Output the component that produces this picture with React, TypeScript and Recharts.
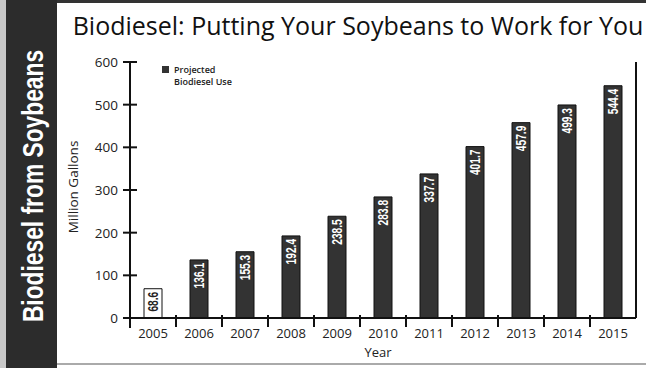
import { BarChart, Bar, XAxis, YAxis, LabelList, Cell } from "recharts";

const years = ["2005", "2006", "2007", "2008", "2009", "2010", "2011", "2012", "2013", "2014", "2015"];
const gallons = [68.6, 136.1, 155.3, 192.4, 238.5, 283.8, 337.7, 401.7, 457.9, 499.3, 544.4];
const yTicks = [0, 100, 200, 300, 400, 500, 600];

const data = years.map((year, i) => ({ year, value: gallons[i] }));

const W = 646;
const H = 368;
const PLOT_LEFT = 130;
const PLOT_RIGHT = 636;
const BAND = (PLOT_RIGHT - PLOT_LEFT) / years.length;
const TICK_FONT = "'Open Sans', 'DejaVu Sans', sans-serif";
const BOLD_FONT = "'Liberation Sans', Arial, sans-serif";

function LeftTick(props: any) {
  const { x, y, payload } = props;
  return (
    <g>
      <line x1={x - 7} x2={x + 7} y1={y} y2={y} stroke="#111" strokeWidth={2} />
      {payload.value === 0 && <line x1={x} x2={x} y1={y} y2={y + 10} stroke="#111" strokeWidth={2} />}
      <text x={x - 12} y={y + 5} textAnchor="end" fontSize={13.5} fontFamily={TICK_FONT} fill="#222">
        {payload.value}
      </text>
    </g>
  );
}

function RightTick(props: any) {
  const { x, y, payload } = props;
  return (
    <g>
      <line x1={x - 6} x2={x + 6} y1={y} y2={y} stroke="#111" strokeWidth={2} />
      {payload.value === 0 && <line x1={x} x2={x} y1={y} y2={y + 9} stroke="#111" strokeWidth={2} />}
    </g>
  );
}

function YearTick(props: any) {
  const { x, y, payload, index } = props;
  const bx = x + BAND / 2;
  return (
    <g>
      {index < years.length - 1 && (
        <line x1={bx} x2={bx} y1={y - 3} y2={y + 9} stroke="#111" strokeWidth={2} />
      )}
      <text x={x} y={y + 20} textAnchor="middle" fontSize={13} fontFamily={TICK_FONT} fill="#222">
        {payload.value}
      </text>
    </g>
  );
}

function ValueLabel(props: any) {
  const { x, y, width, value, index } = props;
  const cx = x + width / 2;
  const ty = y + 3;
  return (
    <text
      x={0}
      y={0}
      transform={`translate(${cx} ${ty}) rotate(-90) scale(0.68 1)`}
      textAnchor="end"
      dominantBaseline="central"
      fontSize={15}
      fontWeight="bold"
      fontFamily={BOLD_FONT}
      fill={index === 0 ? "#222" : "#fff"}
    >
      {value}
    </text>
  );
}

export default function App() {
  return (
    <div style={{ position: "absolute", left: 0, top: 0, width: W, height: H, background: "#fff", overflow: "hidden" }}>
      <svg width={W} height={H} style={{ position: "absolute", left: 0, top: 0 }}>
        <rect x={0} y={0} width={W} height={3} fill="#333" />
        <rect x={0} y={0} width={6} height={H} fill="#c8c8c8" />
        <rect x={6} y={0} width={51} height={H} fill="#2c2c2c" />
        <rect x={57} y={363} width={W - 57} height={2} fill="#aaa" />
        <text
          x={0}
          y={0}
          transform="translate(33 186) rotate(-90) scale(0.76 1)"
          textAnchor="middle"
          dominantBaseline="central"
          fontSize={30}
          fontWeight="bold"
          fontFamily={BOLD_FONT}
          fill="#fff"
        >
          Biodiesel from Soybeans
        </text>
        <text x={358} y={35} textAnchor="middle" fontSize={25} fontFamily={TICK_FONT} fill="#111">
          Biodiesel: Putting Your Soybeans to Work for You
        </text>
        <text
          x={73}
          y={187}
          transform="rotate(-90 73 187)"
          textAnchor="middle"
          dominantBaseline="central"
          fontSize={13.5}
          fontFamily={TICK_FONT}
          fill="#222"
        >
          Million Gallons
        </text>
        <text x={378} y={357} textAnchor="middle" fontSize={13} fontFamily={TICK_FONT} fill="#222">
          Year
        </text>
        <rect x={162} y={66} width={7} height={7} fill="#333" />
        <text x={174} y={73} fontSize={9} fontWeight={600} fontFamily={TICK_FONT} fill="#222">
          Projected
        </text>
        <text x={174} y={85} fontSize={9} fontWeight={600} fontFamily={TICK_FONT} fill="#222">
          Biodiesel Use
        </text>
      </svg>
      <div style={{ position: "absolute", left: 0, top: 0 }}>
        <BarChart width={W} height={H} data={data} margin={{ top: 62, right: 0, bottom: 0, left: 70 }}>
          <XAxis
            dataKey="year"
            axisLine={{ stroke: "#111", strokeWidth: 2 }}
            tickLine={false}
            tickSize={0}
            tickMargin={0}
            tick={<YearTick />}
            interval={0}
            height={50}
          />
          <YAxis
            yAxisId="l"
            domain={[0, 600]}
            ticks={yTicks}
            width={60}
            axisLine={{ stroke: "#111", strokeWidth: 2 }}
            tickLine={false}
            tickSize={0}
            tickMargin={0}
            tick={<LeftTick />}
          />
          <YAxis
            yAxisId="r"
            orientation="right"
            domain={[0, 600]}
            ticks={yTicks}
            width={10}
            axisLine={{ stroke: "#111", strokeWidth: 2 }}
            tickLine={false}
            tickSize={0}
            tickMargin={0}
            tick={<RightTick />}
          />
          <Bar yAxisId="l" dataKey="value" barSize={18} isAnimationActive={false} fill="#333" stroke="#111" strokeWidth={1}>
            {data.map((d, i) => (
              <Cell key={d.year} fill={i === 0 ? "#fff" : "#333"} />
            ))}
            <LabelList dataKey="value" content={<ValueLabel />} />
          </Bar>
        </BarChart>
      </div>
    </div>
  );
}
